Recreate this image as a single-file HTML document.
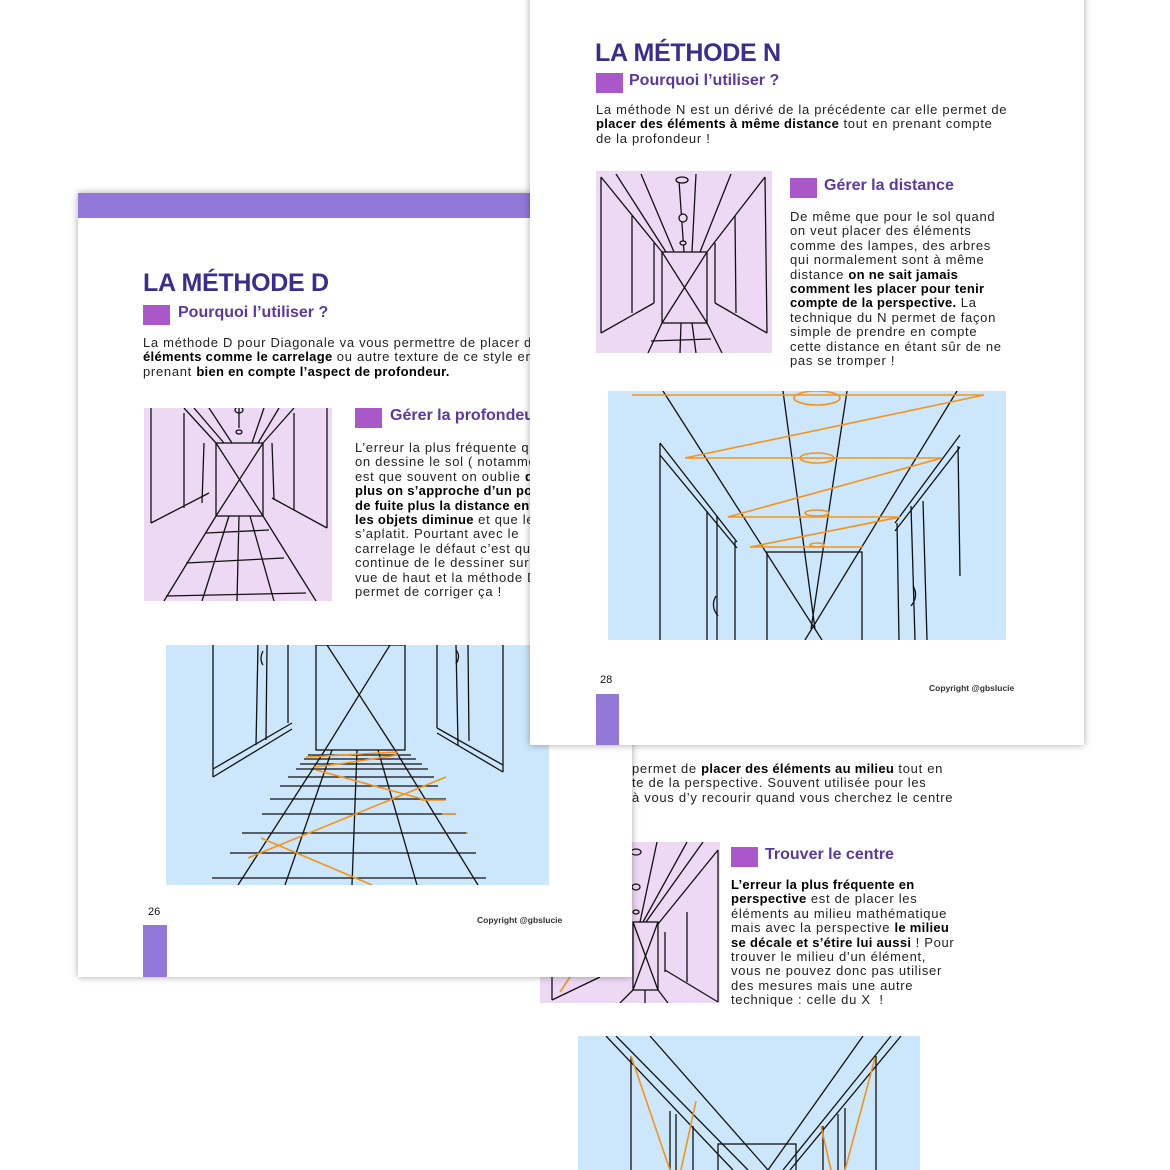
<!DOCTYPE html>
<html><head><meta charset="utf-8"><style>
body{margin:0;width:1170px;height:1170px;background:#fff;position:relative;overflow:hidden;font-family:"Liberation Sans",sans-serif;color:#111}
.pg{position:absolute;background:#fff;box-shadow:0 0 7px rgba(0,0,0,.35);overflow:hidden}
.a{position:absolute;white-space:nowrap}
.t{font-weight:700;font-size:25px;color:#3b2d8c;letter-spacing:-0.3px}
.sq{position:absolute;width:27px;height:20px;background:#a957c9}
.h{font-weight:700;font-size:16px;color:#5a3aa0}
.p{font-size:13px;line-height:14.4px;color:#222;letter-spacing:0.7px}
.p b{color:#000;letter-spacing:0.3px}
.bar{position:absolute;background:#9178d9}
.num{font-size:11px}
.cp{font-size:8.5px;font-weight:700;color:#333}
svg{position:absolute}
svg line,svg path,svg rect,svg ellipse,svg polyline{fill:none;stroke:#111;stroke-width:1.3}
svg .o{stroke:#f39419;stroke-width:1.6}
</style></head><body>

<!-- bottom page -->
<div class="pg" style="left:485px;top:700px;width:520px;height:470px;box-shadow:none">
  <div class="a p" style="left:147px;top:62px;">permet de <b>placer des éléments au milieu</b> tout en<br>te de la perspective. Souvent utilisée pour les<br>à vous d’y recourir quand vous cherchez le centre</div>
  <div style="position:absolute;left:55px;top:142px;width:180px;height:161px;background:#eed9f5"></div>
  <svg style="left:55px;top:142px" width="180" height="161">
    <line x1="117" y1="0" x2="100" y2="80"/><line x1="147" y1="0" x2="103" y2="80"/><line x1="163" y1="0" x2="106" y2="80"/>
    <line x1="178" y1="8" x2="118" y2="82"/><line x1="178" y1="8" x2="178" y2="160"/>
    <line x1="125" y1="90" x2="125" y2="130"/><line x1="147" y1="70" x2="147" y2="140"/>
    <line x1="125" y1="128" x2="178" y2="160"/>
    <rect x="93" y="80" width="25" height="68"/><line x1="93" y1="80" x2="118" y2="148"/><line x1="118" y1="80" x2="93" y2="148"/>
    <ellipse cx="96" cy="10" rx="5" ry="3"/><ellipse cx="96" cy="45" rx="4" ry="3"/><ellipse cx="96" cy="70" rx="3" ry="2"/>
    <line x1="93" y1="148" x2="80" y2="161"/><line x1="118" y1="148" x2="128" y2="161"/><line x1="105" y1="148" x2="105" y2="161"/>
    <line x1="12" y1="158" x2="60" y2="135"/><line x1="12" y1="158" x2="12" y2="100"/><path class="o" d="M20 150 L40 120"/>
  </svg>
  <div class="sq" style="left:246px;top:147px"></div>
  <div class="a h" style="left:280px;top:146px">Trouver le centre</div>
  <div class="a p" style="left:246px;top:178px"><b>L’erreur la plus fréquente en<br>perspective</b> est de placer les<br>éléments au milieu mathématique<br>mais avec la perspective <b>le milieu<br>se décale et s’étire lui aussi</b> ! Pour<br>trouver le milieu d’un élément,<br>vous ne pouvez donc pas utiliser<br>des mesures mais une autre<br>technique : celle du X&nbsp; !</div>
  <div style="position:absolute;left:93px;top:336px;width:342px;height:140px;background:#cce6fb"></div>
  <svg style="left:93px;top:336px" width="342" height="134">
    <line x1="28" y1="0" x2="155" y2="134"/><line x1="38" y1="0" x2="170" y2="134"/><line x1="72" y1="0" x2="190" y2="134"/>
    <line x1="323" y1="0" x2="212" y2="134"/><line x1="313" y1="0" x2="205" y2="134"/><line x1="285" y1="0" x2="190" y2="134"/>
    <line x1="53" y1="20" x2="53" y2="134"/><line x1="298" y1="20" x2="298" y2="134"/>
    <line x1="92" y1="75" x2="92" y2="134"/><line x1="98" y1="78" x2="98" y2="134"/><line x1="115" y1="90" x2="115" y2="134"/>
    <line x1="245" y1="90" x2="245" y2="134"/><line x1="260" y1="78" x2="260" y2="134"/><line x1="267" y1="72" x2="267" y2="134"/>
    <rect x="140" y="108" width="78" height="40"/>
    <line class="o" x1="53" y1="20" x2="92" y2="134"/><line class="o" x1="118" y1="65" x2="103" y2="134"/>
    <line class="o" x1="297" y1="22" x2="267" y2="134"/><line class="o" x1="243" y1="90" x2="253" y2="134"/>
  </svg>
</div>

<!-- left page 26 -->
<div class="pg" style="left:78px;top:193px;width:554px;height:784px">
  <div class="bar" style="left:0;top:0;width:554px;height:25px"></div>
  <div class="a t" style="left:65px;top:76px">LA MÉTHODE D</div>
  <div class="sq" style="left:65px;top:112px"></div>
  <div class="a h" style="left:100px;top:111px">Pourquoi l’utiliser ?</div>
  <div class="a p" style="left:65px;top:143px">La méthode D pour Diagonale va vous permettre de placer des<br><b>éléments comme le carrelage</b> ou autre texture de ce style en<br>prenant <b>bien en compte l’aspect de profondeur.</b></div>
  <div style="position:absolute;left:66px;top:215px;width:188px;height:193px;background:#eed9f5"></div>
  <svg style="left:66px;top:215px" width="188" height="193">
    <rect x="72" y="35" width="47" height="73"/><line x1="72" y1="35" x2="119" y2="108"/><line x1="119" y1="35" x2="72" y2="108"/>
    <line x1="40" y1="0" x2="72" y2="35"/><line x1="50" y1="0" x2="80" y2="35"/><line x1="65" y1="0" x2="88" y2="35"/><line x1="120" y1="0" x2="108" y2="35"/><line x1="135" y1="0" x2="114" y2="35"/><line x1="150" y1="0" x2="119" y2="35"/>
    <line x1="95" y1="0" x2="95" y2="20"/><ellipse cx="95" cy="2" rx="4" ry="3"/><ellipse cx="95" cy="24" rx="3" ry="2"/>
    <line x1="7" y1="0" x2="7" y2="115"/><line x1="7" y1="115" x2="65" y2="85"/><line x1="40" y1="5" x2="40" y2="100"/><line x1="60" y1="35" x2="58" y2="95"/>
    <line x1="183" y1="0" x2="183" y2="120"/><line x1="183" y1="120" x2="128" y2="90"/><line x1="150" y1="5" x2="150" y2="102"/><line x1="128" y1="35" x2="130" y2="92"/>
    <line x1="72" y1="108" x2="20" y2="193"/><line x1="119" y1="108" x2="172" y2="193"/><line x1="85" y1="108" x2="58" y2="193"/><line x1="95" y1="108" x2="93" y2="193"/><line x1="106" y1="108" x2="130" y2="193"/>
    <line x1="62" y1="125" x2="125" y2="122"/><line x1="42" y1="155" x2="140" y2="150"/><line x1="22" y1="188" x2="162" y2="185"/>
  </svg>
  <div class="sq" style="left:277px;top:215px"></div>
  <div class="a h" style="left:312px;top:214px">Gérer la profondeur</div>
  <div class="a p" style="left:277px;top:248px">L’erreur la plus fréquente quand<br>on dessine le sol ( notamment<br>est que souvent on oublie <b>que</b><br><b>plus on s’approche d’un point</b><br><b>de fuite plus la distance entre</b><br><b>les objets diminue</b> et que le sol<br>s’aplatit. Pourtant avec le<br>carrelage le défaut c’est qu’on<br>continue de le dessiner sur une<br>vue de haut et la méthode D<br>permet de corriger ça !</div>
  <div style="position:absolute;left:88px;top:452px;width:383px;height:240px;background:#cce6fb"></div>
  <svg style="left:88px;top:452px" width="383" height="240">
    <rect x="150" y="0" width="89" height="105"/>
    <line x1="161" y1="0" x2="229" y2="105"/><line x1="224" y1="0" x2="159" y2="105"/>
    <line x1="159" y1="105" x2="72" y2="240"/><line x1="229" y1="105" x2="312" y2="240"/>
    <line x1="166" y1="105" x2="119" y2="240"/><line x1="191" y1="105" x2="186" y2="240"/><line x1="212" y1="105" x2="251" y2="240"/>
    <line x1="47" y1="0" x2="47" y2="132"/><line x1="122" y1="0" x2="122" y2="78"/><line x1="47" y1="124" x2="126" y2="78"/><line x1="47" y1="132" x2="126" y2="84"/>
    <line x1="92" y1="0" x2="90" y2="100"/><line x1="101" y1="0" x2="100" y2="95"/><path d="M97 6 q-4 8 0 14"/>
    <line x1="271" y1="0" x2="271" y2="83"/><line x1="337" y1="0" x2="337" y2="127"/><line x1="271" y1="83" x2="337" y2="120"/><line x1="271" y1="88" x2="337" y2="127"/>
    <line x1="290" y1="0" x2="292" y2="100"/><line x1="302" y1="0" x2="303" y2="96"/><path d="M290 5 q5 6 0 14"/>
    <g>
    <line x1="142" y1="110" x2="245" y2="110"/><line x1="138" y1="114" x2="250" y2="114"/><line x1="134" y1="119" x2="256" y2="119"/><line x1="130" y1="124" x2="262" y2="124"/><line x1="122" y1="132" x2="268" y2="132"/><line x1="114" y1="141" x2="272" y2="141"/><line x1="104" y1="154" x2="280" y2="154"/><line x1="96" y1="169" x2="290" y2="169"/><line x1="76" y1="188" x2="300" y2="188"/><line x1="64" y1="208" x2="310" y2="208"/><line x1="46" y1="233" x2="320" y2="233"/>
    </g>
    <polyline class="o" points="140,112 232,107"/><polyline class="o" points="148,122 180,118 232,110"/>
    <line class="o" x1="150" y1="125" x2="260" y2="155"/><line class="o" x1="255" y1="155" x2="280" y2="155"/>
    <line class="o" x1="280" y1="132" x2="82" y2="213"/><line class="o" x1="95" y1="193" x2="206" y2="240"/>
    <line class="o" x1="300" y1="188" x2="302" y2="188"/><line class="o" x1="290" y1="169" x2="276" y2="169"/>
  </svg>
  <div class="a num" style="left:70px;top:713px">26</div>
  <div class="bar" style="left:65px;top:732px;width:24px;height:52px"></div>
  <div class="a cp" style="left:399px;top:722px">Copyright @gbslucie</div>
</div>

<!-- right page 28 -->
<div class="pg" style="left:530px;top:-10px;width:554px;height:755px">
  <div class="a t" style="left:65px;top:49px">LA MÉTHODE N</div>
  <div class="sq" style="left:66px;top:83px"></div>
  <div class="a h" style="left:99px;top:82px">Pourquoi l’utiliser ?</div>
  <div class="a p" style="left:66px;top:113px">La méthode N est un dérivé de la précédente car elle permet de<br><b>placer des éléments à même distance</b> tout en prenant compte<br>de la profondeur !</div>
  <div style="position:absolute;left:66px;top:181px;width:176px;height:182px;background:#eed9f5"></div>
  <svg style="left:66px;top:181px" width="176" height="182">
    <rect x="66" y="81" width="45" height="71"/><line x1="66" y1="81" x2="111" y2="152"/><line x1="111" y1="81" x2="66" y2="152"/>
    <line x1="5" y1="6" x2="66" y2="81"/><line x1="20" y1="3" x2="70" y2="81"/><line x1="45" y1="3" x2="78" y2="81"/><line x1="100" y1="3" x2="96" y2="81"/><line x1="135" y1="3" x2="104" y2="81"/><line x1="169" y1="6" x2="111" y2="81"/>
    <line x1="83" y1="10" x2="88" y2="81"/>
    <ellipse cx="86" cy="9" rx="6" ry="3" style="fill:#eed9f5"/><ellipse cx="87" cy="47" rx="4" ry="4" style="fill:#eed9f5"/><ellipse cx="87" cy="72" rx="3" ry="2" style="fill:#eed9f5"/>
    <line x1="5" y1="6" x2="5" y2="162"/><line x1="5" y1="162" x2="58" y2="132"/><line x1="36" y1="45" x2="36" y2="142"/><line x1="58" y1="72" x2="58" y2="132"/>
    <line x1="169" y1="6" x2="171" y2="162"/><line x1="171" y1="162" x2="119" y2="132"/><line x1="139" y1="45" x2="140" y2="142"/><line x1="119" y1="72" x2="119" y2="132"/>
    <line x1="66" y1="152" x2="52" y2="182"/><line x1="111" y1="152" x2="126" y2="182"/><line x1="85" y1="152" x2="84" y2="182"/><line x1="96" y1="152" x2="100" y2="182"/><line x1="55" y1="170" x2="115" y2="168"/>
  </svg>
  <div class="sq" style="left:260px;top:188px"></div>
  <div class="a h" style="left:294px;top:187px">Gérer la distance</div>
  <div class="a p" style="left:260px;top:220px">De même que pour le sol quand<br>on veut placer des éléments<br>comme des lampes, des arbres<br>qui normalement sont à même<br>distance <b>on ne sait jamais<br>comment les placer pour tenir<br>compte de la perspective.</b> La<br>technique du N permet de façon<br>simple de prendre en compte<br>cette distance en étant sûr de ne<br>pas se tromper !</div>
  <div style="position:absolute;left:78px;top:401px;width:398px;height:249px;background:#cce6fb"></div>
  <svg style="left:78px;top:401px" width="398" height="249">
    <line x1="55" y1="0" x2="214" y2="249"/><line x1="349" y1="0" x2="197" y2="249"/>
    <line x1="175" y1="0" x2="207" y2="238"/><line x1="239" y1="0" x2="203" y2="238"/>
    <rect x="159" y="161" width="95" height="90"/>
    <line x1="52" y1="52" x2="129" y2="151"/><line x1="52" y1="64" x2="129" y2="157"/><line x1="52" y1="52" x2="52" y2="249"/>
    <line x1="99" y1="120" x2="99" y2="249"/><line x1="109" y1="125" x2="109" y2="249"/><line x1="127" y1="150" x2="127" y2="249"/><path d="M108 205 q-6 10 2 20"/>
    <line x1="352" y1="44" x2="287" y2="132"/><line x1="352" y1="56" x2="287" y2="140"/><line x1="350" y1="55" x2="352" y2="185"/>
    <line x1="289" y1="132" x2="291" y2="249"/><line x1="303" y1="115" x2="307" y2="249"/><line x1="315" y1="110" x2="319" y2="249"/><path d="M305 195 q6 10 -2 20"/>
    <polyline class="o" points="24,4 376,4 77,67 334,67 120,126 292,126 142,156 255,156"/>
    <ellipse class="o" cx="209" cy="7" rx="23" ry="7"/><ellipse class="o" cx="209" cy="67" rx="17" ry="5"/><ellipse class="o" cx="209" cy="122" rx="12" ry="3"/><ellipse class="o" cx="209" cy="154" rx="7" ry="2"/>
  </svg>
  <div class="a num" style="left:70px;top:684px">28</div>
  <div class="bar" style="left:66px;top:704px;width:23px;height:51px"></div>
  <div class="a cp" style="left:399px;top:693px">Copyright @gbslucie</div>
</div>
</body></html>
